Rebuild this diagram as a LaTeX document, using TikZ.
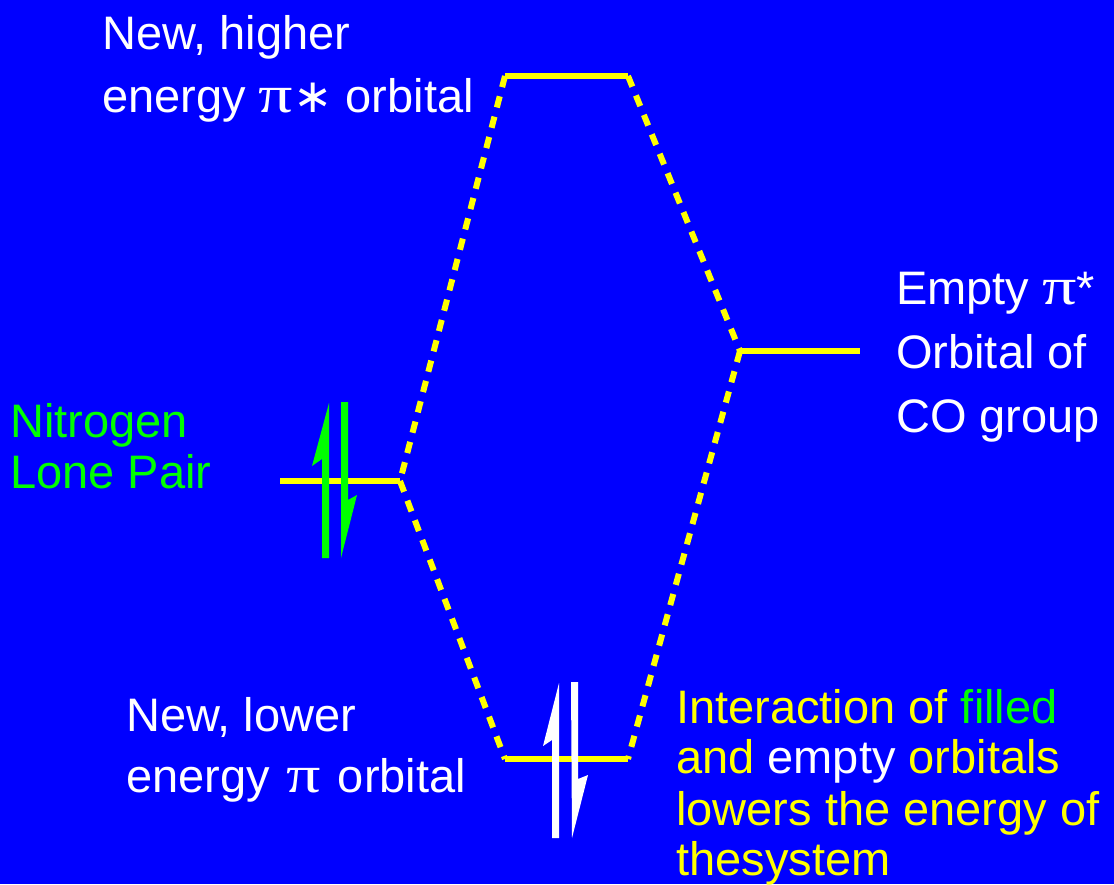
\documentclass[tikz,border=0pt]{standalone}
\usepackage{fontspec}
\usepackage{graphicx}
\setmainfont{Liberation Sans}
\newfontfamily\greekfont{Liberation Serif}
\newfontfamily\symfont{DejaVu Sans}
\definecolor{bgblue}{RGB}{0,0,255}
\definecolor{lvlyellow}{RGB}{255,255,0}
\definecolor{lpgreen}{RGB}{0,255,0}
\newcommand{\gpi}{\scalebox{1.45}[1.12]{\greekfont π}}
\begin{document}
\begin{tikzpicture}[x=1pt,y=-1pt,
  level/.style={draw=lvlyellow,line width=5.5pt,line cap=butt},
  corr/.style={draw=lvlyellow,line width=6pt,dash pattern=on 11.5pt off 9.5pt},
  lbl/.style={anchor=base west,inner sep=0pt,font=\fontsize{47}{60}\selectfont}]
\fill[bgblue] (0,0) rectangle (1114,884);
\useasboundingbox (0,0) rectangle (1114,884);
% level end points
\coordinate (tl) at (505,76);  \coordinate (tr) at (628,76);
\coordinate (rl) at (740,351); \coordinate (rr) at (860,351);
\coordinate (ll) at (280,481); \coordinate (lr) at (400,481);
\coordinate (bl) at (505,759); \coordinate (br) at (628,759);
% correlation lines
\draw[corr] (tl) -- (lr);
\draw[corr] (lr) -- (bl);
\draw[corr] (tr) -- (rl);
\draw[corr] (rl) -- (br);
% levels
\draw[level] (tl) -- (tr);
\draw[level] (rl) -- (rr);
\draw[level] (ll) -- (lr);
\draw[level] (bl) -- (br);
% nitrogen lone pair electrons
\fill[lpgreen] (329,403) -- (312,466) -- (322,459) -- (322,558) -- (329,558) -- cycle;
\fill[lpgreen] (341,402) -- (348,402) -- (348,500) -- (357,495) -- (341,558) -- cycle;
% new lower orbital electrons
\fill[white] (559,683) -- (543,746) -- (552,740) -- (552,838) -- (559,838) -- cycle;
\fill[white] (571,682) -- (578,682) -- (578,779) -- (588,775) -- (572,838) -- cycle;
% labels
\node[lbl,text=white] (hi1) at (102,49) {New, higher};
\node[lbl,text=white] (hi2) at (102,112) {energy \gpi{\symfont ∗} orbital};
\node[lbl,text=lpgreen] (n1) at (10,437) {Nitrogen};
\node[lbl,text=lpgreen] (n2) at (10,488) {Lone Pair};
\node[lbl,text=white] (e1) at (896,304) {Empty \gpi*};
\node[lbl,text=white] (e2) at (896,368) {Orbital of};
\node[lbl,text=white] (e3) at (896,432) {CO group};
\node[lbl,text=white] (lo1) at (126,731) {New, lower};
\node[lbl,text=white] (lo2) at (126,792) {energy\hspace{0.08em} \gpi\hspace{0.08em} orbital};
\node[lbl,text=lvlyellow] (i1) at (676,723) {Interaction of \textcolor{lpgreen}{filled}};
\node[lbl,text=lvlyellow] (i2) at (676,773) {and \textcolor{white}{empty} orbitals};
\node[lbl,text=lvlyellow] (i3) at (676,825) {lowers the energy of};
\node[lbl,text=lvlyellow] (i4) at (676,875) {thesystem};
\end{tikzpicture}
\end{document}
